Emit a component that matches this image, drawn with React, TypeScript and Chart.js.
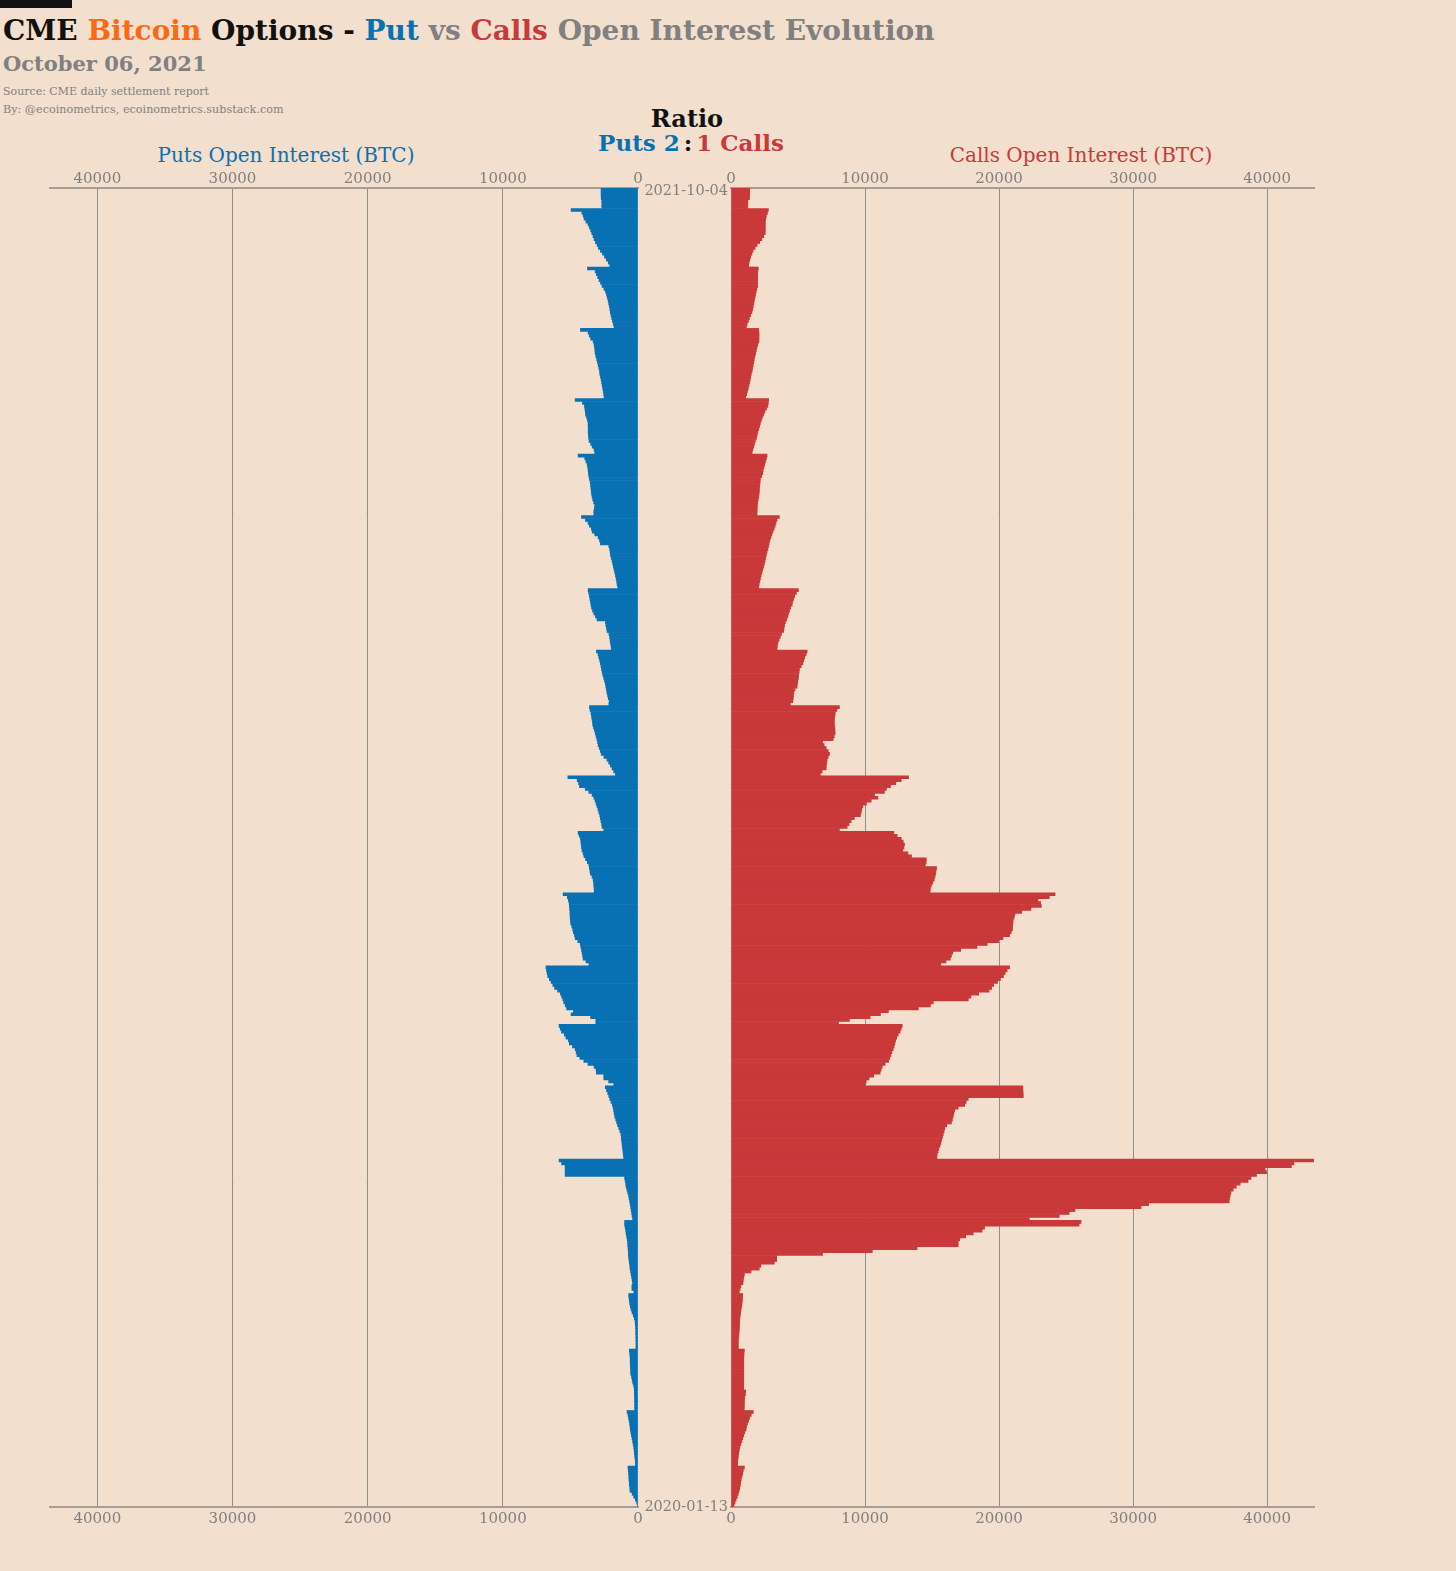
import { useEffect, useRef } from "react"
import type { CSSProperties } from "react"
import { Chart, registerables } from "chart.js"

Chart.register(...registerables)

const SERIF = "'DejaVu Serif', serif"
const BLUE = "#0871b3"
const RED = "#c9393a"
const ORANGE = "#fb6a12"
const GREY = "#808080"
const GRID = "#8e8e8e"
const AXIS = "#a59d96"
const BG = "#f2dfce"

Chart.defaults.font.family = SERIF

const firstDay = "2020-01-13"
const lastDay = "2021-10-04"
const xTicks = [0, 10000, 20000, 30000, 40000]
const xMax = 43500

// one label per trading day, newest first (top of the chart)
const dates: string[] = []
for (const d = new Date(lastDay + "T00:00:00Z"); d >= new Date(firstDay + "T00:00:00Z"); d.setUTCDate(d.getUTCDate() - 1)) {
	const wd = d.getUTCDay()
	if (wd !== 0 && wd !== 6) dates.push(d.toISOString().slice(0, 10))
}

// open interest in BTC, newest first
const putsOI = [
	2730, 2730, 2730, 2720, 2680, 2680, 2680, 4950, 4150, 4050,
	3990, 3850, 3700, 3600, 3500, 3420, 3330, 3250, 3150, 3030,
	2930, 2780, 2630, 2480, 2340, 2200, 2090, 3740, 3170, 3080,
	2980, 2880, 2770, 2660, 2520, 2400, 2330, 2270, 2210, 2170,
	2120, 2080, 2050, 2000, 1950, 1890, 1830, 1770, 4260, 3690,
	3600, 3500, 3320, 3250, 3220, 3190, 3170, 3120, 3060, 3010,
	2950, 2900, 2850, 2830, 2780, 2730, 2690, 2650, 2610, 2570,
	2540, 2510, 4650, 4110, 3960, 3930, 3900, 3880, 3800, 3740,
	3690, 3690, 3680, 3690, 3670, 3650, 3620, 3500, 3390, 3250,
	3200, 4430, 3940, 3850, 3760, 3720, 3690, 3670, 3640, 3600,
	3540, 3510, 3490, 3460, 3440, 3400, 3350, 3280, 3200, 3230,
	3270, 3270, 4180, 3890, 3700, 3600, 3450, 3390, 3200, 2950,
	2850, 2780, 2160, 2100, 2060, 2040, 1980, 1920, 1870, 1820,
	1770, 1720, 1670, 1620, 1580, 1550, 1500, 3690, 3650, 3600,
	3560, 3520, 3480, 3440, 3360, 3270, 3150, 3030, 2410, 2380,
	2330, 2290, 2150, 2100, 2070, 2040, 2000, 1970, 3080, 2950,
	2900, 2840, 2790, 2740, 2700, 2650, 2610, 2540, 2480, 2420,
	2380, 2340, 2300, 2250, 2200, 2130, 2160, 3590, 3550, 3480,
	3440, 3410, 3370, 3350, 3290, 3220, 3160, 3100, 3040, 2990,
	2950, 2870, 2790, 2720, 2520, 2300, 2170, 2050, 1920, 1800,
	1670, 5190, 4500, 4400, 4330, 3900, 3640, 3400, 3270, 3180,
	3100, 3030, 2960, 2900, 2830, 2790, 2740, 2690, 2660, 2530,
	4430, 4350, 4260, 4230, 4200, 4180, 4140, 4060, 4000, 3880,
	3750, 3640, 3600, 3560, 3520, 3400, 3320, 3290, 3270, 3250,
	3240, 5540, 5230, 5150, 5100, 5080, 5060, 5040, 5030, 5020,
	5000, 4980, 4900, 4830, 4780, 4700, 4650, 4450, 4270, 4230,
	4180, 4140, 4100, 4060, 3850, 3630, 6810, 6770, 6720, 6680,
	6560, 6430, 6300, 6170, 5950, 5740, 5650, 5560, 5490, 5380,
	5280, 4780, 4950, 3510, 3120, 3120, 5840, 5750, 5660, 5450,
	5330, 5150, 5080, 4850, 4650, 4580, 4520, 4300, 4010, 3700,
	3250, 3100, 3080, 2530, 2530, 2170, 1800, 2420, 2330, 2240,
	2160, 2090, 2000, 1900, 1840, 1800, 1760, 1720, 1650, 1580,
	1510, 1420, 1340, 1260, 1240, 1220, 1190, 1170, 1140, 1110,
	1090, 1060, 5840, 5650, 5390, 5390, 5390, 5390, 990, 950,
	910, 880, 820, 760, 700, 660, 620, 580, 540, 510,
	470, 440, 400, 990, 990, 950, 910, 880, 840, 800,
	770, 760, 740, 720, 710, 700, 670, 640, 610, 590,
	550, 510, 470, 430, 400, 450, 450, 300, 690, 670,
	640, 610, 570, 510, 440, 350, 270, 220, 200, 180,
	170, 170, 160, 160, 150, 150, 150, 640, 620, 590,
	580, 580, 570, 560, 550, 540, 480, 430, 390, 320,
	280, 270, 270, 260, 260, 250, 250, 250, 810, 740,
	700, 660, 620, 590, 570, 530, 490, 440, 400, 360,
	320, 290, 270, 250, 220, 200, 190, 740, 720, 700,
	680, 670, 650, 640, 610, 590, 440, 320, 200, 100,
	40,
]

const callsOI = [
	1390, 1390, 1390, 1380, 1260, 1250, 1250, 2790, 2720, 2640,
	2590, 2570, 2560, 2560, 2560, 2550, 2440, 2300, 2140, 1950,
	1800, 1650, 1560, 1470, 1400, 1350, 1320, 2040, 2000, 1990,
	1990, 1990, 1990, 1990, 1930, 1880, 1830, 1780, 1740, 1700,
	1660, 1620, 1560, 1460, 1380, 1300, 1210, 1150, 2070, 2090,
	2090, 2090, 2080, 2000, 1940, 1890, 1840, 1790, 1740, 1700,
	1660, 1620, 1580, 1520, 1470, 1440, 1390, 1340, 1290, 1230,
	1170, 1100, 2810, 2780, 2750, 2650, 2530, 2430, 2340, 2260,
	2190, 2130, 2070, 2000, 1950, 1900, 1820, 1750, 1690, 1620,
	1570, 2690, 2640, 2580, 2520, 2460, 2400, 2370, 2290, 2200,
	2170, 2150, 2130, 2120, 2100, 2070, 2030, 1990, 1970, 1960,
	1950, 1940, 3610, 3430, 3360, 3300, 3220, 3130, 3050, 2980,
	2900, 2850, 2800, 2750, 2690, 2640, 2590, 2540, 2490, 2440,
	2370, 2310, 2250, 2200, 2150, 2100, 2070, 5030, 4880, 4750,
	4680, 4600, 4560, 4450, 4370, 4300, 4240, 4150, 4060, 4000,
	3960, 3930, 3770, 3680, 3580, 3500, 3460, 3440, 5680, 5600,
	5500, 5430, 5360, 5240, 5110, 5080, 5050, 5030, 4990, 4960,
	4930, 4780, 4690, 4660, 4640, 4610, 4430, 8090, 7900, 7780,
	7750, 7720, 7720, 7720, 7740, 7760, 7770, 7700, 7620, 6850,
	6950, 7100, 7250, 7350, 7250, 7170, 7140, 7110, 7100, 6800,
	6670, 13250, 12700, 12300, 11900, 11600, 11450, 10710, 10960, 10460,
	10100, 9840, 9750, 9710, 9660, 9200, 8960, 8800, 8670, 8090,
	12150, 12400, 12700, 12850, 12950, 12900, 12820, 13200, 13470, 14570,
	14560, 14500, 15340, 15300, 15270, 15220, 15160, 15050, 14950, 14880,
	14860, 24180, 23750, 22900, 23100, 23160, 22380, 21690, 21180, 21120,
	21050, 21030, 21010, 21000, 20900, 20790, 20300, 19970, 19120, 18350,
	17140, 16550, 16450, 16370, 16040, 15650, 20790, 20600, 20450, 20330,
	20100, 19890, 19600, 19450, 19250, 18480, 17900, 17710, 15090, 14880,
	13980, 11740, 11150, 10380, 8840, 8020, 12770, 12700, 12620, 12480,
	12360, 12280, 12230, 12170, 12100, 12000, 11920, 11850, 11760, 11500,
	11280, 11200, 11130, 10650, 10300, 10090, 10020, 21780, 21780, 21800,
	21810, 17700, 17550, 17440, 16950, 16690, 16620, 16580, 16520, 16450,
	16100, 15950, 15900, 15840, 15780, 15720, 15660, 15600, 15510, 15450,
	15380, 15360, 43480, 42000, 41810, 39850, 39960, 39210, 38800, 38580,
	37990, 37700, 37470, 37300, 37250, 37200, 37170, 31160, 30600, 25670,
	25230, 24490, 22260, 26120, 25970, 18920, 18740, 18070, 17510, 17070,
	16950, 16950, 13880, 10540, 6830, 3410, 3410, 3230, 2230, 2110,
	1500, 1000, 950, 920, 890, 740, 680, 620, 870, 860,
	850, 820, 790, 750, 720, 690, 660, 650, 640, 630,
	620, 600, 580, 560, 550, 550, 550, 1000, 970, 960,
	950, 950, 950, 950, 950, 950, 950, 950, 950, 950,
	950, 1100, 1080, 1020, 1010, 1000, 1000, 990, 1670, 1510,
	1400, 1310, 1230, 1160, 1120, 1030, 950, 880, 810, 740,
	660, 620, 580, 550, 520, 500, 490, 1000, 920, 870,
	820, 770, 730, 700, 650, 600, 540, 470, 380, 300,
	220,
]

function valueAxis(position: "top" | "bottom", reverse: boolean, withGrid: boolean) {
	return {
		type: "linear",
		position,
		reverse,
		min: 0,
		max: xMax,
		afterBuildTicks: (scale: any) => {
			scale.ticks = xTicks.map((value) => ({ value }))
		},
		afterFit: (scale: any) => {
			scale.height = 40
		},
		ticks: {
			color: GREY,
			font: { family: SERIF, size: 15 },
			padding: position === "top" ? 0 : 3,
			maxRotation: 0,
			callback: (v: any) => String(v),
		},
		grid: {
			display: withGrid,
			drawTicks: false,
			lineWidth: 1,
			color: (c: any) => (c.tick && c.tick.value === 0 ? "rgba(0,0,0,0)" : GRID),
		},
		border: { display: true, color: AXIS, width: 2 },
	}
}

type SideProps = {
	values: number[]
	color: string
	reverse: boolean
	showDates: boolean
	padding: { left: number; right: number }
	style: CSSProperties
}

function OpenInterestSide({ values, color, reverse, showDates, padding, style }: SideProps) {
	const canvasRef = useRef<HTMLCanvasElement>(null)

	useEffect(() => {
		if (!canvasRef.current) return

		const chart = new Chart(canvasRef.current, {
			type: "bar",
			data: {
				labels: dates,
				datasets: [
					{
						data: values,
						backgroundColor: color,
						borderWidth: 0,
						barPercentage: 1,
						categoryPercentage: 1,
					},
				],
			},
			options: {
				indexAxis: "y",
				animation: false,
				responsive: true,
				maintainAspectRatio: false,
				layout: { padding: { left: padding.left, right: padding.right, top: 0, bottom: 0 } },
				plugins: {
					legend: { display: false },
					tooltip: { enabled: false },
				},
				scales: {
					x: valueAxis("top", reverse, true),
					x2: valueAxis("bottom", reverse, false),
					y: {
						type: "category",
						display: showDates,
						position: "left",
						grid: { display: false, drawTicks: false },
						border: { display: false },
						afterFit: (scale: any) => {
							// the date column sits in the gap between the two halves
							if (showDates) scale.width = 91
						},
						ticks: {
							autoSkip: false,
							padding: 3,
							labelOffset: 2,
							color: GREY,
							font: { family: SERIF, size: 14.5 },
							callback: (_v: any, i: number) => (i === 0 || i === dates.length - 1 ? dates[i] : ""),
						},
					},
				},
			} as any,
		})

		return () => chart.destroy()
	}, [])

	return (
		<div style={style}>
			<canvas ref={canvasRef}></canvas>
		</div>
	)
}

const abs = (s: CSSProperties): CSSProperties => ({
	position: "absolute",
	whiteSpace: "nowrap",
	lineHeight: 1,
	fontFamily: SERIF,
	...s,
})

export default function App() {
	return (
		<div style={{ position: "absolute", left: 0, top: 0, width: 1456, height: 1571, background: BG, overflow: "hidden" }}>
			<div style={{ position: "absolute", left: 0, top: 0, width: 72, height: 8, background: "#111" }} />

			<div style={abs({ left: 3, top: 17, fontSize: 28, fontWeight: "bold" })}>
				<span style={{ color: "#111" }}>CME </span>
				<span style={{ color: ORANGE }}>Bitcoin </span>
				<span style={{ color: "#111" }}>Options - </span>
				<span style={{ color: BLUE }}>Put </span>
				<span style={{ color: GREY }}>vs </span>
				<span style={{ color: RED }}>Calls </span>
				<span style={{ color: GREY }}>Open Interest Evolution</span>
			</div>
			<div style={abs({ left: 3, top: 53, fontSize: 21, fontWeight: "bold", color: GREY })}>October 06, 2021</div>
			<div style={abs({ left: 3, top: 86, fontSize: 11, color: GREY })}>Source: CME daily settlement report</div>
			<div style={abs({ left: 3, top: 104, fontSize: 11.2, color: GREY })}>By: @ecoinometrics, ecoinometrics.substack.com</div>

			<div style={abs({ left: 587, width: 200, top: 107, textAlign: "center", fontSize: 24, fontWeight: "bold", color: "#111" })}>
				Ratio
			</div>
			<div style={abs({ left: 541, width: 300, top: 131, textAlign: "center", fontSize: 23, fontWeight: "bold" })}>
				<span style={{ color: BLUE }}>Puts 2</span>
				<span style={{ color: "#111", margin: "0 4px" }}>:</span>
				<span style={{ color: RED }}>1 Calls</span>
			</div>

			<div style={abs({ left: 136, width: 300, top: 145, textAlign: "center", fontSize: 20, color: BLUE })}>
				Puts Open Interest (BTC)
			</div>
			<div style={abs({ left: 931, width: 300, top: 145, textAlign: "center", fontSize: 20, color: RED })}>
				Calls Open Interest (BTC)
			</div>

			<OpenInterestSide
				values={putsOI}
				color={BLUE}
				reverse={true}
				showDates={false}
				padding={{ left: 50, right: 7 }}
				style={{ position: "absolute", left: 0, top: 148, width: 645, height: 1399 }}
			/>
			<OpenInterestSide
				values={callsOI}
				color={RED}
				reverse={false}
				showDates={true}
				padding={{ left: 0, right: 142 }}
				style={{ position: "absolute", left: 640, top: 148, width: 816, height: 1399 }}
			/>
		</div>
	)
}
